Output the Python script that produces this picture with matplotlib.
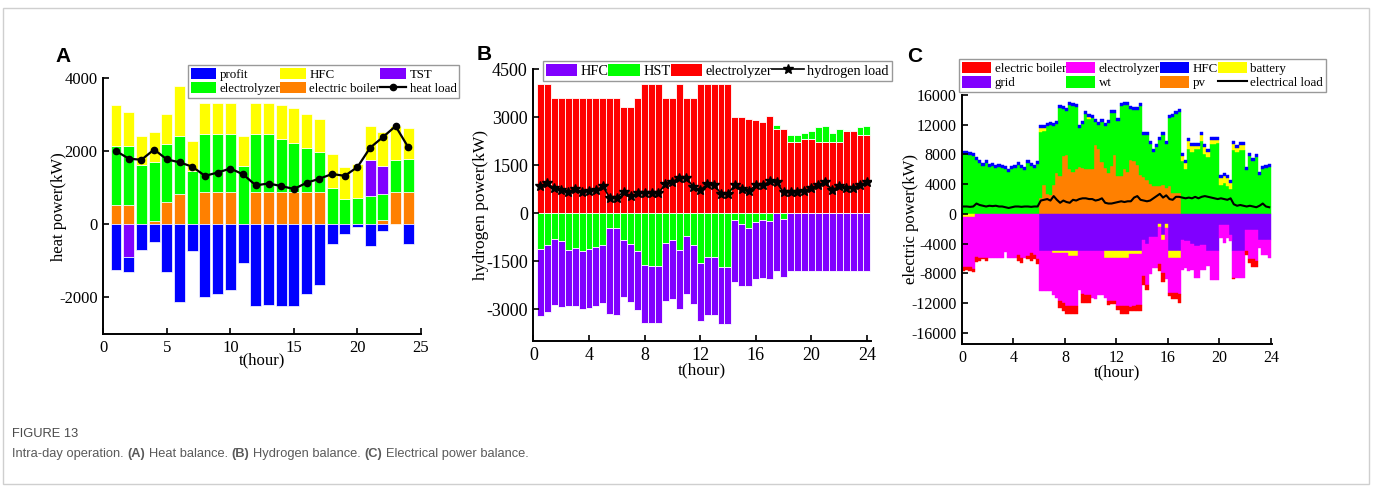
import matplotlib
matplotlib.use("Agg")
import matplotlib.pyplot as plt
import numpy as np
from matplotlib.patches import Patch, Rectangle

plt.rcParams["axes.unicode_minus"] = False

SERIF = "Liberation Serif"
CAPTION_FONT = ["Liberation Sans Narrow", "Liberation Sans", "DejaVu Sans"]
CAPTION_SIZE = 9.3

BLUE, YELLOW, VIOLET = "#0000ff", "#ffff00", "#8000ff"
GREEN, ORANGE, RED, MAGENTA = "#00ff00", "#ff8000", "#ff0000", "#ff00ff"

# ---------------- (A) heat balance, hourly ----------------
heat_hours = np.arange(1, 25)
heat_boiler = [520, 540, 25, 80, 600, 820, 0, 886, 886, 886, 0, 886,
               886, 886, 886, 886, 886, 0, 0, 0, 0, 110, 886, 886]
heat_electrolyzer = [1620, 1600, 1590, 1620, 1600, 1610, 1460, 1590, 1590, 1590, 1590, 1590,
                     1590, 1460, 1340, 1210, 1090, 995, 685, 720, 765, 730, 870, 895]
heat_tst = [0, -880, 0, 0, 0, 0, 0, 0, 0, 0, 0, 0,
            0, 0, 0, 0, 0, 0, 0, 0, 986, 767, 0, 0]
heat_hfc = [1123, 941, 813, 830, 830, 1360, 814, 850, 850, 850, 820, 850,
            850, 913, 968, 914, 905, 923, 875, 925, 932, 923, 932, 868]
heat_profit = [-1260, -426, -694, -484, -1290, -2128, -730, -1990, -1900, -1808, -1060, -2246,
               -2200, -2246, -2246, -1900, -1653, -530, -256, -70, -584, -183, 0, -548]
heat_load = [2010, 1800, 1770, 2050, 1780, 1700, 1580, 1330, 1420, 1530, 1370, 1070,
             1120, 1050, 970, 1140, 1250, 1380, 1330, 1570, 2100, 2390, 2690, 2110]

# ---------------- (B) hydrogen balance, half-hourly ----------------
h2_time = np.arange(1, 49) / 2
h2_electrolyzer = [4050, 4050, 3600, 3600, 3600, 3600, 3600, 3600, 3600, 3600, 3600, 3600,
                   3330, 3330, 3600, 4050, 4050, 4050, 3600, 3600, 4050, 3600, 3600, 4050,
                   4050, 4050, 4050, 4050, 3000, 3000, 2940, 2920, 2865, 3050, 2625, 2635,
                   2220, 2220, 2325, 2325, 2240, 2240, 2240, 2240, 2575, 2575, 2430, 2430]
h2_hst = [-1115, -1000, -813, -865, -1157, -1094, -1177, -1125, -1073, -1010, -480, -480,
          -834, -969, -1198, -1625, -1646, -1646, -938, -844, -1146, -708, -1000, -1550,
          -1385, -1385, -1677, -1677, -220, -333, -458, -281, -219, -260, 135, -188,
          230, 210, 185, 260, 450, 500, 280, 395, 30, 0, 250, 310]
h2_hfc = [-2115, -2105, -2052, -2075, -1740, -1813, -1823, -1835, -1845, -1803, -2667, -2698,
          -1802, -1813, -1824, -1803, -1794, -1794, -1802, -1834, -1854, -1834, -1844, -1825,
          -1815, -1815, -1802, -1802, -1926, -1937, -1813, -1771, -1821, -1803, -1800, -1812,
          -1800, -1800, -1800, -1800, -1800, -1800, -1800, -1800, -1800, -1800, -1800, -1800]
h2_load = [854, 938, 771, 709, 667, 750, 646, 688, 730, 834, 479, 479,
           677, 521, 625, 625, 625, 625, 917, 979, 1105, 1105, 823, 709,
           906, 896, 604, 604, 886, 750, 688, 875, 865, 1000, 959, 646,
           646, 646, 698, 771, 875, 959, 730, 834, 792, 771, 896, 959]

# ---------------- (C) electrical power balance, 15 min ----------------
el_start = np.arange(96) * 0.25
el_pv = [0, 0, 0, 0, 0, 0, 0, 0, 0, 0, 0, 0,
         0, 0, 0, 0, 0, 0, 0, 0, 0, 0, 0, 0,
         2200, 3900, 2700, 2600, 3900, 5500, 5100, 7800, 7900, 6000, 5700, 6000,
         6300, 6200, 6000, 6100, 6100, 9300, 8800, 7000, 6200, 5500, 6500, 7900,
         5100, 5100, 6000, 5700, 7300, 7100, 6600, 5300, 5000, 4500, 4000, 3700,
         3700, 3800, 3900, 3500, 3700, 2800, 2800, 2800, 0, 0, 0, 0,
         0, 0, 0, 0, 0, 0, 0, 0, 0, 0, 0, 0,
         0, 0, 0, 0, 0, 0, 0, 0, 0, 0, 0, 0]
el_wt = [8000, 8100, 7900, 7800, 7200, 6900, 6500, 6800, 6300, 6400, 6200, 6300,
         6200, 6100, 5600, 6100, 6200, 6600, 6200, 5900, 6800, 6400, 6200, 6700,
         8800, 7200, 9100, 9400, 7900, 6600, 9200, 6300, 6000, 8700, 8800, 8400,
         5300, 5900, 7400, 6700, 6800, 3100, 3200, 5400, 5600, 6700, 7100, 5700,
         7400, 9400, 8600, 8900, 6800, 6900, 7400, 9200, 5600, 6100, 5400, 4600,
         5300, 6100, 6700, 5900, 9200, 10300, 10600, 10900, 7100, 6000, 8800, 8300,
         8700, 8700, 9800, 8100, 7700, 9400, 9400, 9500, 3900, 4200, 3800, 3400,
         8600, 8300, 8600, 8600, 5900, 7800, 7100, 7600, 5300, 6000, 6200, 6300]
el_hfc = [400, 400, 400, 400, 400, 400, 400, 400, 400, 400, 400, 400,
          400, 400, 400, 400, 400, 400, 400, 400, 400, 400, 400, 400,
          400, 400, 400, 400, 400, 400, 400, 400, 400, 400, 400, 400,
          400, 400, 400, 400, 400, 400, 400, 400, 400, 400, 400, 400,
          400, 400, 400, 400, 400, 400, 400, 400, 400, 400, 400, 400,
          400, 400, 400, 400, 400, 400, 400, 400, 400, 400, 400, 400,
          400, 400, 400, 400, 400, 400, 400, 400, 400, 400, 400, 400,
          400, 400, 400, 400, 400, 400, 400, 400, 400, 400, 400, 400]
el_battery = [-450, -450, -450, -450, 0, 0, 0, 0, 0, 0, 0, 0,
              0, 0, 0, 0, 0, 0, 0, 0, 0, 0, 0, 0,
              500, 500, 0, 0, -200, -200, -200, -200, -300, -700, -700, -700,
              0, 0, 0, 200, 0, 0, 0, 0, -900, -900, -900, -900,
              -900, -900, -900, -900, -450, -450, -450, -450, 0, 0, 0, 0,
              0, -450, -580, -500, -900, -900, -900, -900, 700, 800, 1000, 900,
              400, 500, 800, 900, 600, 500, 500, 500, 900, 900, 1000, 700,
              800, 600, 700, 700, 0, 0, 0, 0, 0, 0, 0, 0]
el_grid = [0, 0, 0, 0, 0, 0, 0, 0, 0, 0, 0, 0,
           0, 0, 0, 0, 0, 0, 0, 0, 0, 0, 0, 0,
           -5000, -5000, -5000, -5000, -5000, -5000, -5000, -5000, -5000, -5000, -5000, -5000,
           -5000, -5000, -5000, -5000, -5000, -5000, -5000, -5000, -5000, -5000, -5000, -5000,
           -5000, -5000, -5000, -5000, -5000, -5000, -5000, -5000, -3450, -4100, -3100, -3100,
           -3100, -1350, -2900, -1350, -5000, -5000, -5000, -5000, -3450, -3700, -3700, -4100,
           -4350, -4350, -4200, -4200, -5000, -5000, -5000, -5000, -1500, -1500, -1500, -2800,
           -5000, -5000, -5000, -5000, -2200, -2200, -2200, -2200, -3450, -3450, -3450, -3450]
el_electrolyzer = [-6750, -6750, -6750, -6950, -5820, -5900, -5900, -5950, -5900, -5900, -5900, -5900,
                   -5900, -5150, -5900, -5900, -5900, -5470, -5900, -5900, -5680, -5240, -5550, -6000,
                   -5400, -5400, -5400, -5400, -5700, -6100, -6500, -6800, -7100, -6700, -6700, -6700,
                   -5300, -5750, -5900, -5900, -6300, -6500, -5900, -5900, -5400, -5800, -5800, -5800,
                   -6500, -6500, -6500, -6500, -7050, -6950, -6850, -6850, -4950, -5400, -5000, -4200,
                   -4200, -5000, -4420, -6950, -4700, -4700, -4700, -4900, -4030, -3550, -4000, -3380,
                   -4250, -4250, -3300, -3300, -2030, -3830, -3830, -3830, -1730, -2400, -1730, -900,
                   -3600, -3600, -3600, -3600, -2800, -3800, -3800, -4100, -1120, -2020, -2020, -2450]
el_boiler = [-450, -400, -450, -350, -680, -450, -200, -450, 0, 0, 0, 0,
             0, 0, 0, 0, 0, -890, -670, 0, -450, -1100, -580, -800,
             0, 0, 0, 0, 0, 0, -900, -1000, -1100, -1100, -1100, -1100,
             0, -1200, -1050, -1050, 0, 0, 0, 0, 0, -500, -400, -400,
             -500, -1100, -1100, -1100, -500, -600, -700, -700, -1100, -700, 0, 0,
             0, -900, -1200, 0, -400, -900, -900, -1200, 0, 0, 0, 0,
             0, 0, 0, 0, 0, 0, 0, 0, 0, 0, 0, 0,
             -200, 0, 0, 0, -470, -600, -1200, -900, 0, 0, 0, 0]
el_load = [1000, 1000, 950, 1000, 1400, 1200, 1100, 1000, 1100, 1050, 1100, 1000,
           1000, 900, 800, 900, 1000, 1000, 950, 1000, 1000, 950, 1000, 1000,
           1800, 1900, 2000, 1800, 2400, 1900, 1500, 1800, 1600, 1500, 1900, 1800,
           2000, 2100, 2100, 2000, 2000, 1800, 1900, 2100, 1500, 1400, 1400, 1500,
           1600, 1700, 1600, 1700, 1700, 2200, 2400, 1900, 1800, 1700, 1800, 2100,
           2400, 2700, 2200, 2500, 2000, 1900, 2300, 2300, 2200, 2100, 2200, 2100,
           2300, 2100, 2300, 2400, 2300, 2200, 2100, 2000, 2100, 2000, 1900, 2100,
           1300, 1100, 1200, 1100, 1000, 1100, 1000, 900, 1100, 1400, 1000, 900]

W, H = 1373, 486


def fig_rect(left, top, right, bottom):
    """Axes rectangle from pixel edges measured from the top-left corner."""
    return [left / W, 1 - bottom / H, (right - left) / W, (bottom - top) / H]


def stacked_bars(ax, x, layers, width, align="center", edge=None, lw=0.0):
    x = np.asarray(x, dtype=float)
    pos = np.zeros(len(x))
    neg = np.zeros(len(x))
    handles = {}
    for name, values, color in layers:
        v = np.asarray(values, dtype=float)
        for part, base in ((np.clip(v, 0, None), pos), (np.clip(v, None, 0), neg)):
            m = part != 0
            if m.any():
                ax.bar(x[m], part[m], width, bottom=base[m], align=align, color=color,
                       edgecolor=edge or color, linewidth=lw)
        pos += np.clip(v, 0, None)
        neg += np.clip(v, None, 0)
        handles[name] = Patch(facecolor=color, edgecolor="none")
    return handles


def style_axes(ax, size):
    for side in ("top", "right"):
        ax.spines[side].set_visible(False)
    for side in ("left", "bottom"):
        ax.spines[side].set_linewidth(1.4)
    ax.tick_params(direction="in", length=4, width=1.2, labelsize=size, pad=4)
    for lab in ax.get_xticklabels() + ax.get_yticklabels():
        lab.set_family(SERIF)


def add_legend(ax, handles, labels, anchor, ncol, size, hl):
    leg = ax.legend(handles, labels, loc="upper left", bbox_to_anchor=(anchor[0] / W, 1 - anchor[1] / H),
                    bbox_transform=ax.figure.transFigure, ncol=ncol, frameon=True, fancybox=False,
                    borderaxespad=0, borderpad=0.2, columnspacing=0.0, handletextpad=0.25,
                    labelspacing=0.12, handlelength=hl, handleheight=0.95,
                    prop={"family": SERIF, "size": size})
    leg.get_frame().set_edgecolor("#808080")
    leg.get_frame().set_linewidth(1.0)
    leg.set_zorder(10)
    return leg


fig = plt.figure(figsize=(W / 100, H / 100), dpi=100)

# ---- panel A ----
axA = fig.add_axes(fig_rect(103.3, 78.3, 421, 334))
hA = stacked_bars(axA, heat_hours,
                  [("electric boiler", heat_boiler, ORANGE),
                   ("electrolyzer", heat_electrolyzer, GREEN),
                   ("TST", heat_tst, VIOLET),
                   ("HFC", heat_hfc, YELLOW),
                   ("profit", heat_profit, BLUE)],
                  width=0.86, edge="white", lw=0.5)
lineA, = axA.plot(heat_hours, heat_load, color="black", lw=1.6, marker="o", ms=4.5)
axA.set_xlim(0, 25)
axA.set_ylim(-3000, 4000)
axA.set_xticks(range(0, 26, 5))
axA.set_yticks([-2000, 0, 2000, 4000])
style_axes(axA, 12)
axA.set_xlabel("t(hour)", family=SERIF, fontsize=12, labelpad=-2)
axA.set_ylabel("heat power(kW)", family=SERIF, fontsize=12, labelpad=-6)
add_legend(axA, [hA["profit"], hA["electrolyzer"], hA["HFC"], hA["electric boiler"], hA["TST"], lineA],
           ["profit", "electrolyzer", "HFC", "electric boiler", "TST", "heat load"],
           (188, 65), 3, 9.3, 2.0)

# ---- panel B ----
axB = fig.add_axes(fig_rect(533.4, 69.3, 870.7, 341))
hB = stacked_bars(axB, h2_time,
                  [("electrolyzer", h2_electrolyzer, RED),
                   ("HST", h2_hst, GREEN),
                   ("HFC", h2_hfc, VIOLET)],
                  width=0.5, edge="white", lw=0.6)
lineB, = axB.plot(h2_time, h2_load, color="black", lw=1.2, marker="*", ms=7)
axB.set_xlim(0, 24.27)
axB.set_ylim(-4000, 4500)
axB.set_xticks(range(0, 25, 4))
axB.set_yticks([-3000, -1500, 0, 1500, 3000, 4500])
style_axes(axB, 13)
axB.set_xlabel("t(hour)", family=SERIF, fontsize=12.5, labelpad=-1)
axB.set_ylabel("hydrogen power(kW)", family=SERIF, fontsize=12.5, labelpad=-2)
add_legend(axB, [hB["HFC"], hB["HST"], hB["electrolyzer"], lineB],
           ["HFC", "HST", "electrolyzer", "hydrogen load"], (542.7, 60.7), 4, 10.3, 2.2)

# ---- panel C ----
axC = fig.add_axes(fig_rect(962, 95, 1271.7, 344))
hC = stacked_bars(axC, el_start,
                  [("pv", el_pv, ORANGE),
                   ("wt", el_wt, GREEN),
                   ("grid", el_grid, VIOLET),
                   ("battery", el_battery, YELLOW),
                   ("electrolyzer", el_electrolyzer, MAGENTA),
                   ("electric boiler", el_boiler, RED),
                   ("HFC", el_hfc, BLUE)],
                  width=0.25, align="edge", lw=0.3)
lineC, = axC.plot(el_start + 0.125, el_load, color="black", lw=1.5)
axC.set_xlim(0, 24.07)
axC.set_ylim(-17500, 16000)
axC.set_xticks(range(0, 25, 4))
axC.set_yticks(range(-16000, 16001, 4000))
style_axes(axC, 11.5)
axC.set_xlabel("t(hour)", family=SERIF, fontsize=12, labelpad=-1)
axC.set_ylabel("electric power(kW)", family=SERIF, fontsize=12, labelpad=-6)
add_legend(axC, [hC["electric boiler"], hC["grid"], hC["electrolyzer"], hC["wt"],
                 hC["HFC"], hC["pv"], hC["battery"], lineC],
           ["electric boiler", "grid", "electrolyzer", "wt", "HFC", "pv", "battery", "electrical load"],
           (959.3, 59), 4, 9.4, 2.25)

# panel letters
for letter, (px, py) in zip("ABC", [(55, 62), (476.7, 60), (906.7, 61.7)]):
    fig.text(px / W, 1 - py / H, letter, family="Liberation Sans", fontweight="bold",
             fontsize=15, va="baseline", ha="left")

# card outline
fig.patches.append(Rectangle((3 / W, 2 / H), 1366 / W, 476 / H, transform=fig.transFigure,
                             fill=False, edgecolor="#cfcfcf", linewidth=1.0))

# caption
fig.text(12 / W, 1 - 437 / H, "FIGURE 13", family=CAPTION_FONT, fontsize=CAPTION_SIZE,
         color="#4a4a4a", va="baseline")
renderer = fig.canvas.get_renderer()


def text_width(s, weight):
    t = fig.text(0, 0, s, family=CAPTION_FONT, fontsize=CAPTION_SIZE, fontweight=weight)
    w = t.get_window_extent(renderer).width
    t.remove()
    return w


space = text_width("x x", "normal") - text_width("xx", "normal")
caption = [("Intra-day operation.", "normal"), ("(A)", "bold"), ("Heat balance.", "normal"),
           ("(B)", "bold"), ("Hydrogen balance.", "normal"), ("(C)", "bold"),
           ("Electrical power balance.", "normal")]
cx = 12.0
for chunk, weight in caption:
    fig.text(cx / W, 1 - 457 / H, chunk, family=CAPTION_FONT, fontsize=CAPTION_SIZE, fontweight=weight,
             color="#5a5a5a", va="baseline")
    cx += text_width(chunk, weight) + space

fig.savefig("out.png", dpi=100)
